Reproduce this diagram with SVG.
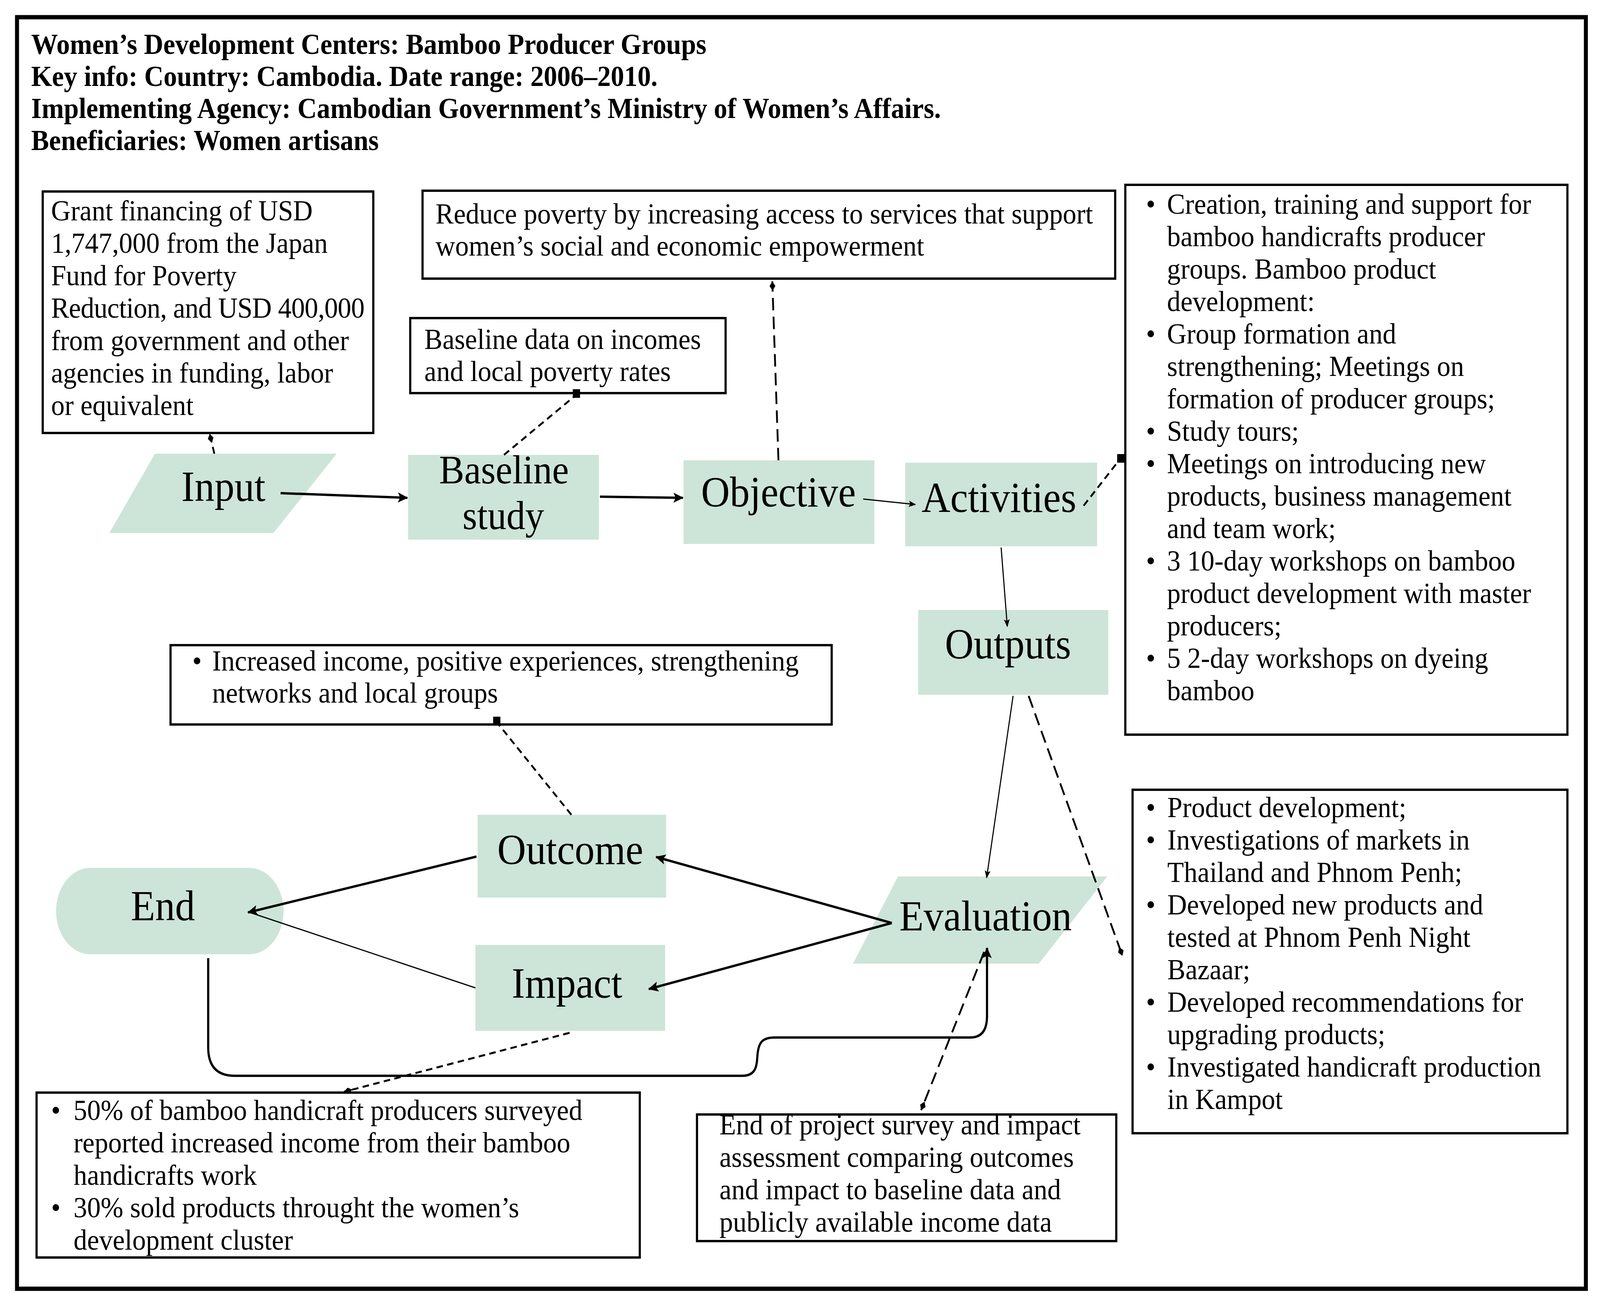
<svg xmlns="http://www.w3.org/2000/svg" width="4419" height="3337" viewBox="0 0 4419 3337" preserveAspectRatio="none">
<style>
svg{width:100vw;height:100vh}
.t{font-family:"Liberation Serif","Times New Roman",serif;font-size:75px;fill:#000}
.h{font-family:"Liberation Serif","Times New Roman",serif;font-size:74px;font-weight:bold;fill:#000}
.n{font-family:"Liberation Serif","Times New Roman",serif;font-size:110px;fill:#000;text-anchor:middle}
.box{fill:#fff;stroke:#000;stroke-width:6}
.g{fill:#cce5d8;stroke:none}
.thick{fill:none;stroke:#000;stroke-width:6}
.thin{fill:none;stroke:#000;stroke-width:3}
.d1{fill:none;stroke:#000;stroke-width:5;stroke-dasharray:18 12}
.d2{fill:none;stroke:#000;stroke-width:5;stroke-dasharray:32 16}
</style>
<defs>
<marker id="arr" markerUnits="userSpaceOnUse" markerWidth="32" markerHeight="32" refX="26" refY="13" orient="auto"><path d="M0,0 L28,13 L0,26 L6,13 Z" fill="#000"/></marker>
<marker id="arrs" markerUnits="userSpaceOnUse" markerWidth="24" markerHeight="24" refX="18" refY="8" orient="auto"><path d="M0,0 L20,8 L0,16 L4,8 Z" fill="#000"/></marker>
<marker id="dia" markerUnits="userSpaceOnUse" markerWidth="30" markerHeight="30" refX="24" refY="10" orient="auto"><path d="M0,10 L12,2 L24,10 L12,18 Z" fill="#000"/></marker>
<marker id="sq" markerUnits="userSpaceOnUse" markerWidth="30" markerHeight="30" refX="4" refY="18" orient="0"><path d="M0,0 L24,0 L24,22 L0,22 Z" fill="#000"/></marker>
<marker id="sqc" markerUnits="userSpaceOnUse" markerWidth="30" markerHeight="30" refX="10" refY="14" orient="0"><path d="M0,0 L20,0 L20,22 L0,22 Z" fill="#000"/></marker>
</defs>
<rect x="0" y="0" width="4419" height="3337" fill="#fff"/>
<rect x="47" y="44" width="4333" height="3254" fill="none" stroke="#000" stroke-width="11"/>

<g id="title">
<text class="h" x="86" y="138">Women’s Development Centers: Bamboo Producer Groups</text>
<text class="h" x="86" y="220">Key info: Country: Cambodia. Date range: 2006–2010.</text>
<text class="h" x="86" y="302">Implementing Agency: Cambodian Government’s Ministry of Women’s Affairs.</text>
<text class="h" x="86" y="384">Beneficiaries: Women artisans</text>
</g>

<g id="grant">
<rect class="box" x="118" y="490" width="913" height="618"/>
<text class="t" x="141" y="564">Grant financing of USD</text>
<text class="t" x="141" y="647">1,747,000 from the  Japan</text>
<text class="t" x="141" y="730">Fund for Poverty</text>
<text class="t" x="141" y="813" textLength="866">Reduction, and USD 400,000</text>
<text class="t" x="141" y="896">from government and other</text>
<text class="t" x="141" y="979">agencies in funding, labor</text>
<text class="t" x="141" y="1062">or equivalent</text>
</g>

<g id="reduce">
<rect class="box" x="1167" y="488" width="1913" height="225"/>
<text class="t" x="1203" y="572">Reduce poverty by increasing access to services that support</text>
<text class="t" x="1203" y="654">women’s social and economic empowerment</text>
</g>

<g id="baselinedata">
<rect class="box" x="1133" y="814" width="871" height="192"/>
<text class="t" x="1172" y="893">Baseline data on incomes</text>
<text class="t" x="1172" y="975">and local poverty rates</text>
</g>

<g id="activitieslist">
<rect class="box" x="3108" y="473" width="1221" height="1407"/>
<g class="t">
<text x="3165" y="547">•</text><text x="3223" y="547">Creation, training and support for</text>
<text x="3223" y="630">bamboo handicrafts producer</text>
<text x="3223" y="713">groups. Bamboo product</text>
<text x="3223" y="796">development:</text>
<text x="3165" y="879">•</text><text x="3223" y="879">Group formation and</text>
<text x="3223" y="962">strengthening; Meetings on</text>
<text x="3223" y="1045">formation of producer groups;</text>
<text x="3165" y="1128">•</text><text x="3223" y="1128">Study tours;</text>
<text x="3165" y="1211">•</text><text x="3223" y="1211">Meetings on introducing new</text>
<text x="3223" y="1294">products, business management</text>
<text x="3223" y="1377">and team work;</text>
<text x="3165" y="1460">•</text><text x="3223" y="1460">3 10-day workshops on bamboo</text>
<text x="3223" y="1543">product development with master</text>
<text x="3223" y="1626">producers;</text>
<text x="3165" y="1709">•</text><text x="3223" y="1709">5 2-day workshops on dyeing</text>
<text x="3223" y="1792">bamboo</text>
</g>
</g>

<g id="input">
<polygon class="g" points="428,1161 930,1161 755,1364 302,1364"/>
<text class="n" x="617" y="1282">Input</text>
</g>

<g id="baselinestudy">
<rect class="g" x="1127" y="1164" width="527" height="217"/>
<text class="n" style="font-size:104px"><tspan x="1392" y="1237">Baseline</tspan><tspan x="1390" y="1354">study</tspan></text>
</g>

<g id="objective">
<rect class="g" x="1888" y="1178" width="527" height="214"/>
<text class="n" x="2150" y="1296">Objective</text>
</g>

<g id="activities">
<rect class="g" x="2500" y="1184" width="530" height="214"/>
<text class="n" x="2759" y="1310">Activities</text>
</g>

<g id="outputs">
<rect class="g" x="2536" y="1561" width="525" height="217"/>
<text class="n" x="2784" y="1685">Outputs</text>
</g>

<g id="increased">
<rect class="box" x="471" y="1651" width="1826" height="203"/>
<text class="t" x="531" y="1716">•</text>
<text class="t" x="586" y="1716">Increased income, positive experiences, strengthening</text>
<text class="t" x="586" y="1798">networks and local groups</text>
</g>

<g id="outcome">
<rect class="g" x="1319" y="2085" width="521" height="212"/>
<text class="n" x="1575" y="2211">Outcome</text>
</g>

<g id="impact">
<rect class="g" x="1313" y="2418" width="524" height="220"/>
<text class="n" x="1566" y="2553">Impact</text>
</g>

<g id="end">
<rect class="g" x="155" y="2221" width="628" height="221" rx="95" ry="110"/>
<text class="n" x="450" y="2355">End</text>
</g>

<g id="evaluation">
<polygon class="g" points="2480,2243 3058,2243 2869,2466 2356,2466"/>
<text class="n" x="2722" y="2381">Evaluation</text>
</g>

<g id="productlist">
<rect class="box" x="3128" y="2021" width="1201" height="879"/>
<g class="t">
<text x="3165" y="2091">•</text><text x="3224" y="2091">Product development;</text>
<text x="3165" y="2174">•</text><text x="3224" y="2174">Investigations of markets in</text>
<text x="3224" y="2257">Thailand and Phnom Penh;</text>
<text x="3165" y="2340">•</text><text x="3224" y="2340">Developed new products and</text>
<text x="3224" y="2423">tested at Phnom Penh Night</text>
<text x="3224" y="2506">Bazaar;</text>
<text x="3165" y="2589">•</text><text x="3224" y="2589">Developed recommendations for</text>
<text x="3224" y="2672">upgrading products;</text>
<text x="3165" y="2755">•</text><text x="3224" y="2755">Investigated handicraft production</text>
<text x="3224" y="2838">in Kampot</text>
</g>
</g>

<g id="results">
<rect class="box" x="101" y="2796" width="1666" height="422"/>
<g class="t">
<text x="141" y="2866">•</text><text x="203" y="2866">50% of bamboo handicraft producers surveyed</text>
<text x="203" y="2949">reported increased income from their bamboo</text>
<text x="203" y="3032">handicrafts work</text>
<text x="141" y="3115">•</text><text x="203" y="3115">30% sold products throught the women’s</text>
<text x="203" y="3198">development cluster</text>
</g>
</g>

<g id="survey">
<rect class="box" x="1925" y="2852" width="1158" height="324"/>
<g class="t">
<text x="1987" y="2903">End of project survey and impact</text>
<text x="1987" y="2986">assessment comparing outcomes</text>
<text x="1987" y="3069">and impact to baseline data and</text>
<text x="1987" y="3152">publicly available income data</text>
</g>
</g>

<g id="connectors">
<path class="thick" d="M775,1262 L1125,1274" marker-end="url(#arr)"/>
<path class="thick" d="M1657,1271 L1886,1274" marker-end="url(#arr)"/>
<path class="thin" d="M2384,1277 L2528,1291" marker-end="url(#arrs)"/>
<path class="thin" d="M2765,1401 L2782,1603" marker-end="url(#arrs)"/>
<path class="thin" d="M2798,1781 L2725,2246" marker-end="url(#arrs)"/>
<path class="thick" d="M2463,2362 L1812,2193" marker-end="url(#arr)"/>
<path class="thick" d="M2463,2362 L1792,2531" marker-end="url(#arr)"/>
<path class="thick" d="M1316,2192 L685,2335" marker-end="url(#arr)"/>
<path class="thin" d="M1313,2528 L690,2335"/>
<path class="thick" d="M575,2452 L575,2680 Q575,2753 648,2753 L2050,2753 C2090,2753 2090,2725 2092,2700 C2095,2668 2105,2655 2140,2655 L2680,2655 Q2726,2655 2726,2600 L2726,2426" marker-end="url(#arr)"/>
<path class="d2" d="M2841,1781 L3100,2446" marker-end="url(#dia)"/>
<path class="d1" d="M1573,2643 L950,2794" marker-end="url(#dia)"/>
<path class="d2" d="M2718,2436 L2544,2841" marker-end="url(#dia)"/>
<path class="d1" d="M1578,2085 L1372,1848" marker-end="url(#sqc)"/>
<path class="d1" d="M1392,1164 L1592,1010" marker-end="url(#sqc)"/>
<path class="d2" d="M2150,1178 L2133,720" marker-end="url(#dia)"/>
<path class="d1" d="M2993,1294 L3089,1180" marker-end="url(#sq)"/>
<path class="d1" d="M592,1161 L579,1110" marker-end="url(#dia)"/>
</g>
</svg>
